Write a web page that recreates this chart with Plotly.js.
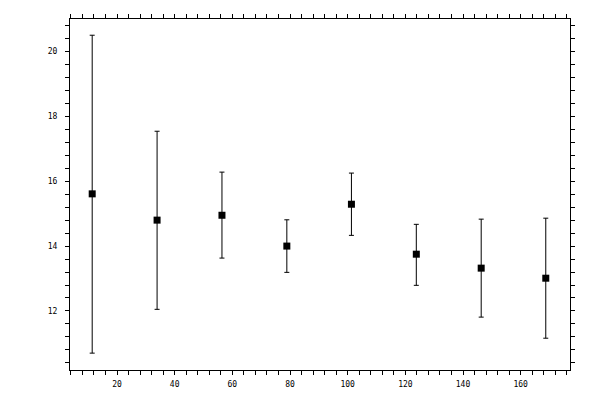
<!DOCTYPE html>
<html>
<head>
<meta charset="utf-8">
<script src="https://cdn.plot.ly/plotly-3.0.1.min.js"></script>
<style>html,body{margin:0;padding:0;background:#fff;}#chart{width:600px;height:400px;}</style>
</head>
<body>
<div id="chart"></div>
<script>
var xValues = [11.4, 33.9, 56.4, 78.9, 101.3, 123.8, 146.3, 168.7];
var yValues = [15.61, 14.80, 14.95, 14.00, 15.29, 13.75, 13.32, 13.01];
var upperValues = [20.50, 17.54, 16.28, 14.81, 16.25, 14.67, 14.83, 14.86];
var lowerValues = [10.70, 12.05, 13.63, 13.19, 14.33, 12.79, 11.81, 11.16];

var errPlus = upperValues.map(function (u, i) { return u - yValues[i]; });
var errMinus = lowerValues.map(function (l, i) { return yValues[i] - l; });

var xRange = [3.7, 177.1];
var yRange = [10.18, 21.0];
var tickFont = {family: 'DejaVu Sans Mono, monospace', size: 8, color: '#000'};

var trace = {
  type: 'scatter',
  mode: 'markers',
  x: xValues,
  y: yValues,
  marker: {symbol: 'square', size: 7, color: '#000'},
  error_y: {
    type: 'data', symmetric: false,
    array: errPlus, arrayminus: errMinus,
    color: '#000', thickness: 1, width: 2.5
  },
  hoverinfo: 'none',
  showlegend: false
};

var layout = {
  width: 600, height: 400,
  margin: {l: 70, r: 30, t: 19, b: 30},
  paper_bgcolor: '#fff', plot_bgcolor: '#fff',
  showlegend: false,
  xaxis: {
    range: xRange, tick0: 0, dtick: 20,
    showgrid: false, zeroline: false,
    showline: true, linecolor: '#000', linewidth: 1, mirror: 'ticks',
    ticks: 'outside', ticklen: 4, tickwidth: 1, tickcolor: '#000',
    minor: {dtick: 4, tick0: 0, ticks: 'outside', ticklen: 4, tickwidth: 1, tickcolor: '#000', showgrid: false},
    tickfont: tickFont, ticklabelstandoff: 2
  },
  yaxis: {
    range: yRange, tick0: 0, dtick: 2,
    showgrid: false, zeroline: false,
    showline: true, linecolor: '#000', linewidth: 1, mirror: 'ticks',
    ticks: 'outside', ticklen: 4, tickwidth: 1, tickcolor: '#000',
    minor: {dtick: 0.4, tick0: 0, ticks: 'outside', ticklen: 4, tickwidth: 1, tickcolor: '#000', showgrid: false},
    tickfont: tickFont, ticklabelstandoff: 6
  },
  xaxis2: {
    overlaying: 'x', anchor: 'y', range: xRange, tick0: 0, dtick: 20,
    showgrid: false, zeroline: false, showline: false, showticklabels: false,
    mirror: 'ticks', ticks: 'inside', ticklen: 4, tickwidth: 1, tickcolor: '#000', side: 'bottom'
  },
  yaxis2: {
    overlaying: 'y', anchor: 'x', range: yRange, tick0: 0, dtick: 2,
    showgrid: false, zeroline: false, showline: false, showticklabels: false,
    mirror: 'ticks', ticks: 'inside', ticklen: 4, tickwidth: 1, tickcolor: '#000', side: 'left'
  }
};

Plotly.newPlot('chart', [trace], layout, {staticPlot: true, displayModeBar: false});
</script>
</body>
</html>
